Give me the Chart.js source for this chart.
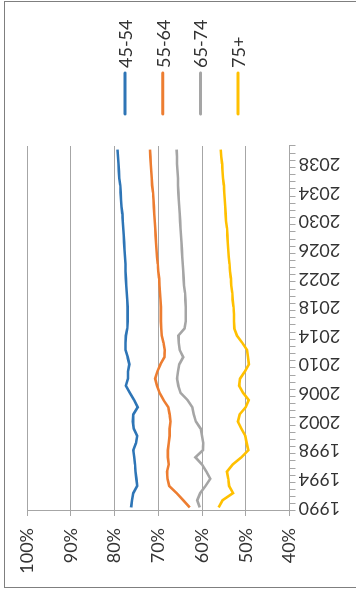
<!DOCTYPE html>
<html>
<head>
<meta charset="utf-8">
<script src="https://cdn.jsdelivr.net/npm/chart.js@4"></script>
<style>
  html, body { margin: 0; padding: 0; background: #fff; overflow: hidden; }
  body { width: 356px; height: 592px; position: relative; }
  /* the chart is laid out landscape, then turned a quarter turn counter-clockwise */
  #frame {
    position: absolute; left: 0; top: 0;
    width: 592px; height: 356px;
    transform-origin: 0 0;
    transform: translate(0px, 592px) rotate(-90deg);
  }
</style>
</head>
<body>
<div id="frame"><canvas id="c" width="592" height="356"></canvas></div>
<script>
// Share of each age group, 1990–2040 (per cent)
const years = [1990,1991,1992,1993,1994,1995,1996,1997,1998,1999,
               2000,2001,2002,2003,2004,2005,2006,2007,2008,2009,
               2010,2011,2012,2013,2014,2015,2016,2017,2018,2019,
               2020,2021,2022,2023,2024,2025,2026,2027,2028,2029,
               2030,2031,2032,2033,2034,2035,2036,2037,2038,2039,2040];

const labeledYears = [1990,1994,1998,2002,2006,2010,2014,2018,2022,2026,2030,2034,2038];

const seriesNames = ['45-54', '55-64', '65-74', '75+'];

const age45to54 = [76.2,76.0,75.7,74.8,75.0,75.2,75.3,75.5,75.7,75.1,
                   74.8,75.6,75.8,75.7,74.7,75.5,76.5,77.4,76.9,76.9,
                   76.6,77.0,77.5,77.5,77.4,77.1,77.0,77.0,77.0,77.1,
                   77.2,77.3,77.4,77.5,77.5,77.6,77.7,77.8,77.9,78.0,
                   78.1,78.2,78.4,78.5,78.6,78.7,78.9,79.0,79.1,79.2,79.3];

const age55to64 = [62.8,64.3,65.8,67.5,67.9,68.0,67.6,67.8,67.8,67.6,
                   67.4,67.4,67.2,67.4,67.7,68.8,69.7,70.3,70.7,70.2,
                   69.5,68.6,68.5,68.8,69.2,69.3,69.4,69.4,69.4,69.5,
                   69.6,69.7,69.8,70.0,70.1,70.3,70.4,70.5,70.6,70.7,
                   70.8,70.9,71.0,71.1,71.2,71.4,71.5,71.6,71.7,71.8,71.9];

const age65to74 = [60.5,61.1,60.4,59.2,58.1,59.0,60.0,61.5,59.8,59.7,
                   60.0,60.3,61.4,61.9,62.2,63.3,64.9,65.4,65.7,65.5,
                   65.2,64.3,65.1,65.3,65.4,64.0,63.7,63.7,63.7,63.8,
                   63.9,64.1,64.2,64.3,64.4,64.5,64.6,64.7,64.8,64.9,
                   65.0,65.1,65.2,65.3,65.4,65.5,65.5,65.6,65.7,65.7,65.8];

const age75plus = [56.2,55.3,52.9,53.8,54.0,54.3,53.0,51.0,49.4,49.8,
                   50.1,51.0,51.8,51.4,50.0,49.3,50.6,51.5,51.3,50.2,
                   49.3,49.5,49.7,50.8,52.0,52.6,52.7,52.7,52.8,53.0,
                   53.1,53.3,53.4,53.6,53.7,53.9,54.0,54.1,54.2,54.3,
                   54.5,54.6,54.7,54.8,54.9,55.0,55.2,55.3,55.4,55.6,55.7];

const yTicks = [40, 50, 60, 70, 80, 90, 100];

const colors = ['#2E75B6', '#ED7D31', '#A5A5A5', '#FFC000'];
const FONT = { family: 'Lato, "Open Sans", sans-serif', size: 18 };
const GRID = '#a6a6a6';
const TEXT = '#333333';

// outer frame of the chart object
const framePlugin = {
  id: 'frame',
  beforeDraw(chart) {
    const ctx = chart.ctx;
    ctx.save();
    ctx.fillStyle = '#fff';
    ctx.fillRect(0, 0, chart.width, chart.height);
    ctx.strokeStyle = '#7f7f7f';
    ctx.lineWidth = 1;
    ctx.strokeRect(4.5, 4.5, 586, 420);
    ctx.restore();
  }
};

// legend: line sample followed by the series name, one row per series
const legendPlugin = {
  id: 'sideLegend',
  afterDraw(chart) {
    const ctx = chart.ctx;
    ctx.save();
    ctx.font = `${FONT.size}px ${FONT.family}`;
    ctx.textBaseline = 'middle';
    chart.data.datasets.forEach((ds, i) => {
      const y = 125 + i * 37.7;
      ctx.strokeStyle = ds.borderColor;
      ctx.lineWidth = 3;
      ctx.lineCap = 'round';
      ctx.beginPath();
      ctx.moveTo(478, y);
      ctx.lineTo(519, y);
      ctx.stroke();
      ctx.fillStyle = TEXT;
      ctx.fillText(ds.label, 524, y + 1);
    });
    ctx.restore();
  }
};

const seriesValues = [age45to54, age55to64, age65to74, age75plus];

new Chart(document.getElementById('c'), {
  type: 'line',
  data: {
    labels: years,
    datasets: seriesNames.map((name, i) => ({
      label: name,
      data: seriesValues[i],
      borderColor: colors[i],
      backgroundColor: colors[i],
      borderWidth: 2.6,
      pointRadius: 0,
      tension: 0,
      fill: false
    }))
  },
  options: {
    responsive: false,
    devicePixelRatio: 1,
    animation: false,
    layout: { padding: { left: 4, top: 27, right: 146, bottom: 0 } },
    plugins: { legend: { display: false }, tooltip: { enabled: false } },
    scales: {
      x: {
        type: 'category',
        offset: true,
        grid: { offset: true, drawOnChartArea: false, drawTicks: true, tickLength: 6, color: GRID },
        border: { color: GRID },
        ticks: {
          autoSkip: false,
          maxRotation: 90,
          minRotation: 90,
          padding: 3,
          color: TEXT,
          font: FONT,
          callback: (v, i) => labeledYears.includes(years[i]) ? String(years[i]) : ''
        },
        afterFit: s => { s.height = 66.5; }
      },
      y: {
        min: 40,
        max: 100,
        afterBuildTicks: s => { s.ticks = yTicks.map(v => ({ value: v })); },
        grid: { color: GRID, tickLength: 5 },
        border: { color: GRID },
        ticks: { padding: 12, color: TEXT, font: FONT, callback: v => v + '%' },
        afterFit: s => { s.width = 77; }
      }
    }
  },
  plugins: [framePlugin, legendPlugin]
});
</script>
</body>
</html>
